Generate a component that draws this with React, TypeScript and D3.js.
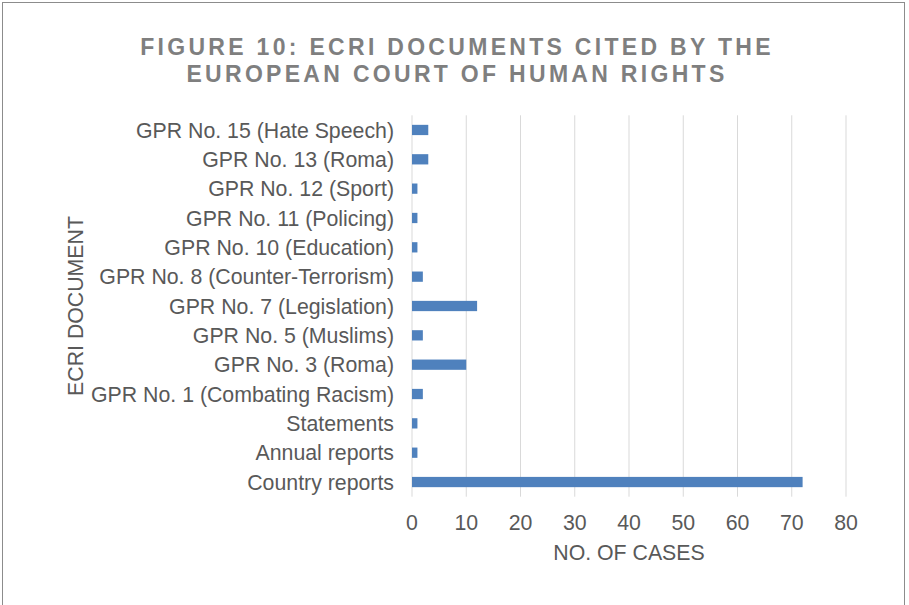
import { useEffect, useRef } from "react";
import * as d3 from "d3";

const categories = [
  "GPR No. 15 (Hate Speech)",
  "GPR No. 13 (Roma)",
  "GPR No. 12 (Sport)",
  "GPR No. 11 (Policing)",
  "GPR No. 10 (Education)",
  "GPR No. 8 (Counter-Terrorism)",
  "GPR No. 7 (Legislation)",
  "GPR No. 5 (Muslims)",
  "GPR No. 3 (Roma)",
  "GPR No. 1 (Combating Racism)",
  "Statements",
  "Annual reports",
  "Country reports",
];
const cases = [3, 3, 1, 1, 1, 2, 12, 2, 10, 2, 1, 1, 72];
const xTicks = [0, 10, 20, 30, 40, 50, 60, 70, 80];

const W = 909;
const H = 605;
const FONT = "'Liberation Sans', Arial, sans-serif";
const FS = "21.3px";

export default function App() {
  const svgRef = useRef<SVGSVGElement>(null);

  useEffect(() => {
    if (!svgRef.current) return;
    const svg = d3.select(svgRef.current);
    svg.selectAll("*").remove();

    const left = 412, right = 846, top = 115.3, bottom = 496.7;

    const x = d3.scaleLinear().domain([0, 80]).range([left, right]);
    const y = d3.scaleBand<string>().domain(categories).range([top, bottom]).paddingInner(0.65).paddingOuter(0.325);

    // frame
    svg.append("rect")
      .attr("x", 2.5).attr("y", 2.5)
      .attr("width", 902).attr("height", 610)
      .attr("fill", "white").attr("stroke", "#8c8c8c").attr("stroke-width", 1);

    // title
    const title = svg.append("text")
      .attr("text-anchor", "middle")
      .attr("fill", "#7f7f7f")
      .attr("font-size", "23px")
      .attr("font-weight", "bold")
      .attr("letter-spacing", "3.3px")
      .style("font-family", FONT);
    title.append("tspan").attr("x", 457).attr("y", 55).text("FIGURE 10: ECRI DOCUMENTS CITED BY THE");
    title.append("tspan").attr("x", 457).attr("y", 81.5).text("EUROPEAN COURT OF HUMAN RIGHTS");

    // gridlines
    svg.append("g").selectAll("line").data(xTicks).join("line")
      .attr("x1", d => x(d)).attr("x2", d => x(d))
      .attr("y1", top).attr("y2", bottom)
      .attr("stroke", "#d9d9d9").attr("stroke-width", 1);

    // bars
    svg.append("g").selectAll("rect").data(categories).join("rect")
      .attr("x", x(0))
      .attr("y", d => y(d)!)
      .attr("width", (_, i) => x(cases[i]) - x(0))
      .attr("height", y.bandwidth())
      .attr("fill", "#4f81bd");

    // x tick labels
    svg.append("g").selectAll("text").data(xTicks).join("text")
      .attr("x", d => x(d)).attr("y", 530)
      .attr("text-anchor", "middle")
      .attr("fill", "#595959")
      .attr("font-size", FS)
      .style("font-family", FONT)
      .text(d => String(d));

    // category labels
    svg.append("g").selectAll("text").data(categories).join("text")
      .attr("x", 394)
      .attr("y", d => y(d)! + y.bandwidth() / 2)
      .attr("dy", "0.36em")
      .attr("text-anchor", "end")
      .attr("fill", "#595959")
      .attr("font-size", FS)
      .style("font-family", FONT)
      .text(d => d);

    // axis titles
    svg.append("text")
      .attr("x", (left + right) / 2).attr("y", 560)
      .attr("text-anchor", "middle")
      .attr("fill", "#595959")
      .attr("font-size", FS)
      .style("font-family", FONT)
      .text("NO. OF CASES");

    svg.append("text")
      .attr("transform", `translate(83, 306) rotate(-90)`)
      .attr("text-anchor", "middle")
      .attr("fill", "#595959")
      .attr("font-size", FS)
      .style("font-family", FONT)
      .text("ECRI DOCUMENT");
  }, []);

  return (
    <svg
      ref={svgRef}
      width={W}
      height={H}
      style={{ position: "absolute", left: 0, top: 0, display: "block" }}
    />
  );
}
